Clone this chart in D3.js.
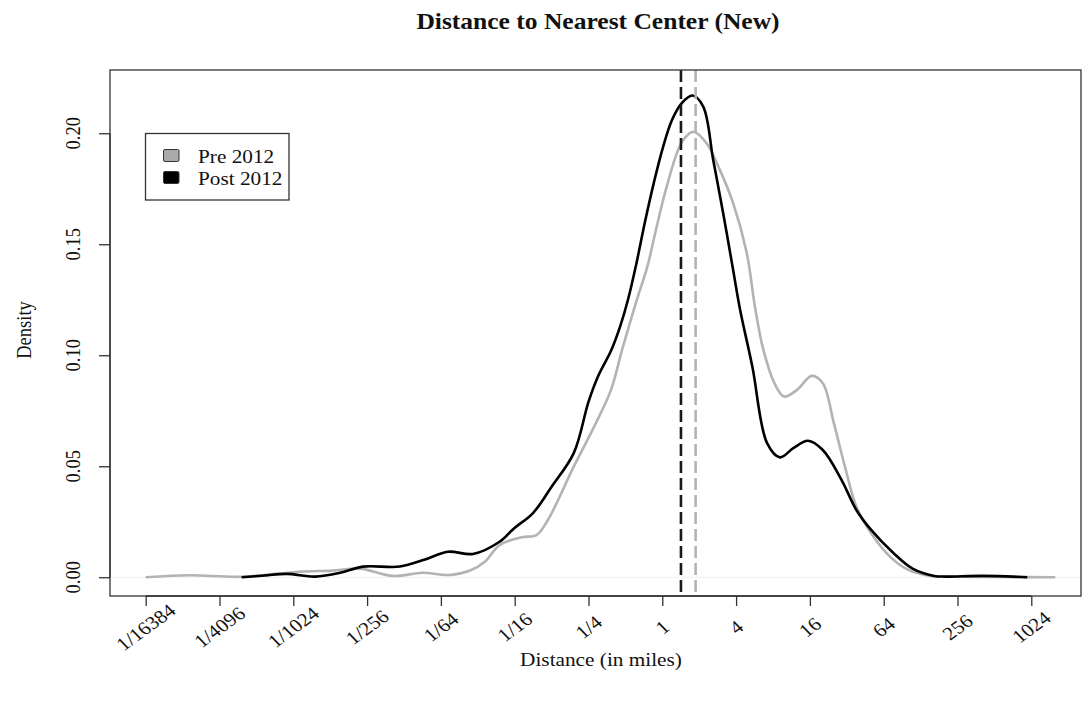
<!DOCTYPE html>
<html>
<head>
<meta charset="utf-8">
<script src="https://cdn.jsdelivr.net/npm/d3@7"></script>
<style>
  html, body { margin: 0; padding: 0; background: #fff; }
  svg { display: block; }
  text { font-family: "Liberation Serif", "Times New Roman", serif; fill: #111; }
</style>
</head>
<body>
<svg id="chart" width="1083" height="704"></svg>
<script>
// Kernel density of distance to nearest center, on a log2 distance axis.
// Positions are log2(miles); densities are per log2 unit.

// Pre 2012 density curve
const preLog2 = [-14.0, -12.8, -11.45, -9.82, -8.93, -8.2, -7.3, -6.49, -5.76, -5.21, -4.81, -4.41,
  -3.81, -3.41, -3.10, -2.40, -1.80, -1.39, -1.09, -0.69, -0.42, -0.15, 0.12, 0.53, 0.84, 1.20,
  1.56, 1.92, 2.29, 2.51, 2.74, 3.04, 3.30, 3.65, 4.05, 4.35, 4.65, 4.95, 5.26, 5.66, 6.17, 6.67,
  7.27, 8.07, 9.15, 10.65];
const preDensity = [0.0, 0.0009, 0.0002, 0.0025, 0.003, 0.0039, 0.0006, 0.002, 0.001, 0.003, 0.007, 0.0145,
  0.018, 0.019, 0.0258, 0.0498, 0.0694, 0.0844, 0.1024, 0.125, 0.139, 0.158, 0.176, 0.196, 0.2007, 0.1955,
  0.1835, 0.1685, 0.146, 0.122, 0.1024, 0.0874, 0.0814, 0.0844, 0.0907, 0.0874, 0.0694, 0.0498, 0.0318, 0.0198, 0.0093, 0.0033,
  0.0006, 0.0002, 0.0001, 0.0];

// Post 2012 density curve
const postLog2 = [-11.4, -10.77, -10.18, -9.41, -8.73, -8.11, -7.11, -6.43, -5.81, -5.13, -4.41, -4.02,
  -3.51, -3.00, -2.40, -2.0, -1.74, -1.39, -1.146, -0.93, -0.71, -0.47, -0.225, 0.02, 0.263, 0.534, 0.82, 1.11,
  1.38, 1.65, 1.92, 2.11, 2.44, 2.84, 3.19, 3.54, 3.95, 4.35, 4.86, 5.26, 5.66, 6.27, 6.77,
  7.37, 7.67, 8.68, 9.89];
const postDensity = [0.0, 0.0008, 0.0015, 0.0003, 0.002, 0.0048, 0.0048, 0.008, 0.0115, 0.0105, 0.016, 0.022,
  0.0288, 0.0408, 0.0559, 0.0790, 0.0905, 0.102, 0.1128, 0.125, 0.1407, 0.160, 0.178, 0.1938, 0.206, 0.2137, 0.217, 0.212,
  0.188, 0.164, 0.1384, 0.1204, 0.0949, 0.0604, 0.054, 0.058, 0.0615, 0.0573, 0.0438, 0.0303, 0.0213, 0.0108, 0.004,
  0.0006, 0.0003, 0.0006, 0.0];

// Median distance (miles) for each period
const medianMiles = { pre: 1.87, post: 1.42 };

// Axis ticks
const xTickLog2 = [-14, -12, -10, -8, -6, -4, -2, 0, 2, 4, 6, 8, 10];
const xTickLabels = ["1/16384", "1/4096", "1/1024", "1/256", "1/64", "1/16", "1/4", "1", "4", "16", "64", "256", "1024"];
const yTicks = [0.00, 0.05, 0.10, 0.15, 0.20];

const seriesNames = ["Pre 2012", "Post 2012"];
const seriesColors = ["#b3b3b3", "#000000"];

const svg = d3.select("#chart");
const frame = { left: 110, right: 1081, top: 70, bottom: 596 };
// text is drawn slightly wide (horizontal stretch)
const SX = 1.15;
const FS = 18.5;

const x = d3.scaleLinear().domain([-14.967, 11.347]).range([frame.left, frame.right]);
const y = d3.scaleLinear().domain([-0.00845, 0.2285]).range([frame.bottom, frame.top]);

// faint zero line
svg.append("line")
  .attr("x1", frame.left).attr("x2", frame.right)
  .attr("y1", y(0)).attr("y2", y(0))
  .attr("stroke", "#efefef").attr("stroke-width", 1);

const line = d3.line()
  .x(d => x(d[0])).y(d => y(d[1]))
  .curve(d3.curveCatmullRom.alpha(0.5));

const preData = preLog2.map((v, i) => [v, preDensity[i]]);
const postData = postLog2.map((v, i) => [v, postDensity[i]]);

const plot = svg.append("g");
plot.append("path").datum(preData)
  .attr("d", line).attr("fill", "none")
  .attr("stroke", seriesColors[0]).attr("stroke-width", 2.6)
  .attr("stroke-linejoin", "round");
plot.append("path").datum(postData)
  .attr("d", line).attr("fill", "none")
  .attr("stroke", seriesColors[1]).attr("stroke-width", 2.6)
  .attr("stroke-linejoin", "round");

// median markers
[[medianMiles.post, "#1a1a1a"], [medianMiles.pre, "#b3b3b3"]].forEach(([m, c]) => {
  svg.append("line")
    .attr("x1", x(Math.log2(m))).attr("x2", x(Math.log2(m)))
    .attr("y1", frame.top).attr("y2", frame.bottom)
    .attr("stroke", c).attr("stroke-width", 2.6)
    .attr("stroke-dasharray", "12,5");
});

// frame
svg.append("rect")
  .attr("x", frame.left).attr("y", frame.top)
  .attr("width", frame.right - frame.left).attr("height", frame.bottom - frame.top)
  .attr("fill", "none").attr("stroke", "#333").attr("stroke-width", 1.3);

// x axis
const xAxis = d3.axisBottom(x)
  .tickValues(xTickLog2)
  .tickSize(10)
  .tickFormat("");
const gx = svg.append("g")
  .attr("transform", `translate(0,${frame.bottom})`)
  .call(xAxis);
gx.select(".domain").attr("stroke", "#333").attr("stroke-width", 1.3)
  .attr("d", `M${x(xTickLog2[0])},0H${x(xTickLog2[xTickLog2.length - 1])}`);
gx.selectAll(".tick line").attr("stroke", "#333").attr("stroke-width", 1.3);

svg.append("g").selectAll("text")
  .data(xTickLog2)
  .join("text")
  .attr("transform", d => `translate(${x(d)},627) scale(${SX},1) rotate(-40)`)
  .attr("text-anchor", "middle")
  .attr("dominant-baseline", "central")
  .attr("font-size", FS)
  .text((d, i) => xTickLabels[i]);

// y axis
const yAxis = d3.axisLeft(y).tickValues(yTicks).tickSize(11).tickFormat("");
const gy = svg.append("g")
  .attr("transform", `translate(${frame.left},0)`)
  .call(yAxis);
gy.select(".domain").attr("stroke", "#333").attr("stroke-width", 1.3)
  .attr("d", `M0,${y(0)}V${y(0.20)}`);
gy.selectAll(".tick line").attr("stroke", "#333").attr("stroke-width", 1.3);

svg.append("g").selectAll("text")
  .data(yTicks)
  .join("text")
  .attr("transform", d => `translate(80,${y(d)}) scale(${SX},1) rotate(-90)`)
  .attr("text-anchor", "middle")
  .attr("font-size", FS)
  .text(d => d3.format(".2f")(d));

// titles
svg.append("text")
  .attr("transform", `translate(598,29) scale(${SX},1)`)
  .attr("text-anchor", "middle")
  .attr("font-size", FS * 1.2).attr("font-weight", "bold")
  .text("Distance to Nearest Center (New)");

svg.append("text")
  .attr("transform", `translate(601,666) scale(${SX},1)`)
  .attr("text-anchor", "middle")
  .attr("font-size", FS)
  .text("Distance (in miles)");

svg.append("text")
  .attr("transform", `translate(31,330) scale(${SX},1) rotate(-90)`)
  .attr("text-anchor", "middle")
  .attr("font-size", FS)
  .text("Density");

// legend
const legend = svg.append("g");
legend.append("rect")
  .attr("x", 145.5).attr("y", 133.5).attr("width", 143.5).attr("height", 66.5)
  .attr("fill", "#fff").attr("stroke", "#333").attr("stroke-width", 1.3);
seriesNames.forEach((name, i) => {
  legend.append("rect")
    .attr("x", 163.5).attr("y", 149.5 + i * 22).attr("width", 15.5).attr("height", 12)
    .attr("rx", 1.5)
    .attr("fill", i === 0 ? "#aaaaaa" : "#000").attr("stroke", "#333").attr("stroke-width", 1);
  legend.append("text")
    .attr("transform", `translate(198,${163 + i * 22}) scale(${SX},1)`)
    .attr("font-size", FS)
    .text(name);
});
</script>
</body>
</html>
